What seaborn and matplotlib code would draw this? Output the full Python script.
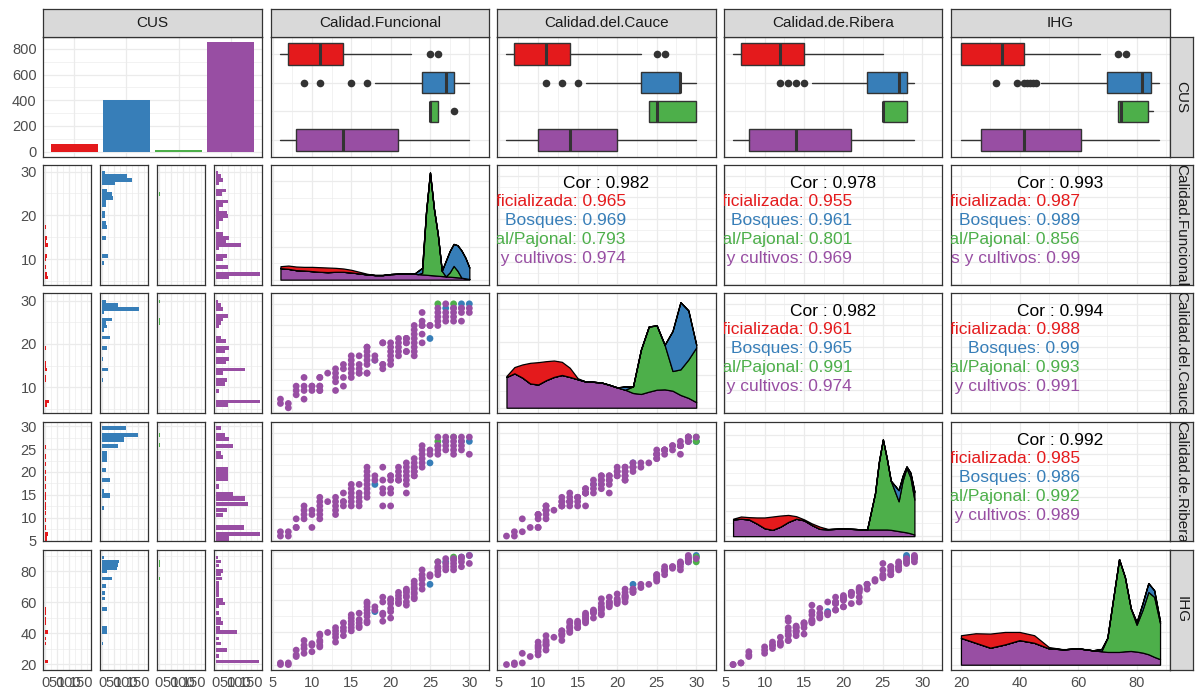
import numpy as np
import pandas as pd
import matplotlib
matplotlib.use("Agg")
import matplotlib.pyplot as plt
from matplotlib.ticker import MaxNLocator
import seaborn as sns

# ------------------------------------------------------------------ data
groups = ["Artificializada", "Bosques", "Pastizal/Pajonal", "Pasturas y cultivos"]
colors = ["#E41A1C", "#377EB8", "#4DAF4A", "#984EA3"]
var_labels = ["CUS", "Calidad.Funcional", "Calidad.del.Cauce", "Calidad.de.Ribera", "IHG"]

cus_counts = [55, 400, 12, 850]

# boxplots: [lower whisker, q1, median, q3, upper whisker] per group + outliers
box_cf = [[6, 7, 11, 14, 22.6], [18, 24, 27, 28, 30], [25, 25, 25, 26, 26], [6, 8, 14, 21, 30]]
out_cf = [[25, 26], [9, 11, 15, 17], [28], []]
box_cc = [[6, 7, 11, 14, 23], [16, 23, 28, 28, 30], [24, 24, 25, 30, 30], [6, 10, 14, 20, 30]]
out_cc = [[25, 26], [11, 13, 15], [], []]
box_cr = [[6, 7, 12, 15, 25], [16, 23, 27, 28, 29], [25, 25, 25, 28, 28], [6, 8, 14, 21, 29]]
out_cr = [[], [12, 13, 14, 15], [], []]
box_ihg = [[20, 20, 34, 41.5, 67.5], [47.5, 70, 82, 85, 87.5], [73.5, 73.5, 74.5, 84, 85.5], [20, 27, 41.5, 61, 87.5]]
out_ihg = [[73.5, 76.5], [32, 39, 41.5, 42.5, 43.5, 44.5, 45.5], [], []]

# histograms of Calidad.Funcional and Calidad.del.Cauce: counts in 31 bins
# (first bin centre 5.79, bin width 0.8276)
h_cf_r = [11, 8, 0, 4, 0, 4, 6, 0, 0, 11, 4, 6, 0, 0, 4, 0, 0, 0, 0, 0, 0, 0, 0, 1, 1, 0, 0, 0, 0, 0, 0]
h_cf_b = [0, 0, 0, 0, 7, 0, 24, 0, 0, 0, 0, 15, 0, 0, 19, 17, 0, 13, 13, 0, 17, 17, 44, 41, 19, 0, 56, 126, 104, 13, 0]
h_cf_g = [0] * 23 + [6, 2, 0, 0, 1, 0, 0, 0]
h_cf_p = [57, 185, 0, 52, 0, 31, 46, 0, 15, 107, 43, 57, 31, 0, 15, 15, 31, 52, 46, 15, 30, 50, 0, 26, 41, 0, 15, 31, 22, 9, 0]
h_cc_r = [6, 14, 0, 0, 0, 0, 0, 4, 4, 0, 9, 4, 4, 0, 0, 0, 3] + [0] * 14
h_cc_b = [0, 0, 0, 0, 0, 0, 0, 3, 0, 0, 26, 0, 0, 3, 0, 0, 22, 0, 0, 33, 0, 7, 22, 17, 41, 0, 6, 157, 65, 17, 0]
h_cc_g = [0] * 23 + [4, 4, 0, 0, 0, 0, 3, 0]
h_cc_p = [50, 185, 0, 0, 15, 0, 37, 46, 0, 31, 122, 0, 43, 57, 0, 37, 57, 0, 43, 22, 0, 0, 15, 22, 31, 50, 0, 31, 22, 7, 0]

# histograms of Calidad.de.Ribera and IHG: (bar position, count) per group
h_cr_r_v = [5.5, 6.5, 7.9, 9.5, 11.0, 12.2, 13.0, 14.3, 15.2, 16.8, 18.6, 20.0, 21.8, 23.4, 25.5]
h_cr_r_n = [6, 11, 4, 2, 4, 3, 4, 3, 3, 3, 2, 2, 2, 2, 2]
h_cr_b_v = [12.1, 14.9, 15.8, 18.2, 20.4, 22.6, 23.3, 24.1, 25.7, 27.1, 28.0, 29.6]
h_cr_b_n = [7, 33, 7, 33, 17, 19, 19, 19, 68, 91, 150, 102]
h_cr_g_v = [25.9, 28.0]
h_cr_g_n = [6, 4]
h_cr_p_v = [5.5, 6.5, 7.9, 10.6, 11.7, 13.0, 14.2, 15.2, 16.8, 18.6, 19.7, 20.6, 23.2, 24.1,
            25.7, 27.2, 28.0, 29.6]
h_cr_p_n = [57, 185, 118, 30, 48, 135, 122, 72, 11, 50, 50, 50, 31, 22, 72, 57, 37, 22]

h_ihg_r_v = [21.7, 33.5, 36.7, 41.0, 46.8, 49.0, 53.0, 55.7]
h_ihg_r_n = [13, 4, 4, 11, 4, 4, 4, 4]
h_ihg_b_v = [33.5, 41.0, 43.2, 55.7, 62.5, 65.8, 70.5, 75.4, 80.0, 81.9, 84.0, 86.4, 88.8]
h_ihg_b_n = [2, 19, 19, 19, 13, 13, 17, 41, 19, 61, 68, 72, 6]
h_ihg_g_v = [75.4, 84.0, 86.4]
h_ihg_g_n = [4, 3, 3]
h_ihg_p_v = [21.7, 25.5, 29.2, 33.5, 36.7, 41.0, 43.5, 46.8, 49.0, 53.0, 57.2, 59.3, 61.5, 64.7,
             66.8, 68.8, 70.5, 72.6, 75.4, 78.2, 80.2, 83.8, 86.4, 88.8]
h_ihg_p_n = [181, 15, 46, 22, 15, 89, 19, 30, 22, 13, 15, 37, 31, 15, 15, 13, 15, 15, 26, 22, 31, 15, 22, 7]

# stacked densities (per-group density x1000, read at the listed values)
d_cf_x = [6, 7, 8, 9, 10, 11, 12, 13, 14, 15, 16, 17, 18, 19, 20, 21, 22, 23, 23.5, 24, 24.5,
          25, 25.5, 26, 26.5, 27, 27.5, 28, 28.5, 29, 29.5, 30]
d_cf_p = [35, 33, 29, 28, 26, 24, 23, 24, 24, 22, 19, 16, 14, 14, 17, 18, 18, 18, 17, 16, 15,
          14, 13, 12, 11, 10, 9, 8, 7, 6, 4, 2]
d_cf_g = [0] * 19 + [5, 190, 313, 204, 125, 16, 0, 13, 34, 20, 0, 0, 0]
d_cf_b = [0] * 18 + [10, 15, 2, 0, 0, 0, 0, 47, 65, 67, 78, 83, 63, 35]
d_cf_r = [6, 10, 11, 11, 13, 14, 14, 12, 10, 8, 5, 2] + [0] * 20

d_cc_x = [6, 7, 8, 9, 10, 11, 12, 13, 14, 15, 16, 17, 18, 19, 20, 21, 22, 23, 24, 25, 26, 27, 28, 29, 30]
d_cc_p = [94, 105, 92, 74, 71, 84, 94, 100, 94, 87, 80, 79, 77, 70, 62, 55, 45, 42, 49, 55, 56, 52, 39, 30, 17]
d_cc_g = [0] * 16 + [20, 135, 199, 196, 136, 60, 78, 117, 167]
d_cc_b = [0] * 15 + [10, 0, 0, 0, 0, 0, 122, 205, 150, 8]
d_cc_r = [3, 19, 40, 63, 68, 58, 50, 40, 28, 3] + [0] * 15

d_cr_x = [6, 7, 8, 9, 10, 11, 12, 13, 14, 15, 16, 17, 18, 19, 20, 21, 22, 23, 24, 24.5, 25, 25.5,
          26, 27, 27.5, 28, 28.5, 29]
d_cr_p = [53, 55, 53, 40, 25, 20, 30, 45, 55, 50, 35, 23, 22, 23, 24, 23, 22, 21, 21, 21, 21, 21,
          20, 16, 14, 12, 9, 5]
d_cr_g = [0] * 18 + [114, 214, 284, 224, 155, 94, 161, 203, 176, 110]
d_cr_b = [0] * 23 + [35, 15, 5, 15, 25]
d_cr_r = [2, 7, 7, 19, 34, 42, 35, 22, 8, 3, 5, 7, 1] + [0] * 15

d_ihg_x = [20, 25, 30, 35, 40, 45, 50, 55, 60, 65, 68, 70, 72, 74, 76, 78, 80, 82, 84, 86, 88]
d_ihg_p = [82, 67, 52, 62, 75, 67, 50, 47, 50, 44, 41, 39, 39, 39, 41, 42, 40, 37, 32, 24, 17]
d_ihg_g = [0] * 10 + [1, 43, 163, 283, 226, 130, 82, 130, 190, 183, 110]
d_ihg_b = [0] * 10 + [6, 0, 0, 0, 0, 0, 8, 20, 27, 20, 5]
d_ihg_r = [8, 29, 43, 38, 25, 23, 4] + [0] * 14

# correlations: (row, col): overall, per group
cor_tot = {(1, 2): "0.982", (1, 3): "0.978", (1, 4): "0.993",
           (2, 3): "0.982", (2, 4): "0.994", (3, 4): "0.992"}
cor_grp = {(1, 2): ["0.965", "0.969", "0.793", "0.974"],
           (1, 3): ["0.955", "0.961", "0.801", "0.969"],
           (1, 4): ["0.987", "0.989", "0.856", "0.99"],
           (2, 3): ["0.961", "0.965", "0.991", "0.974"],
           (2, 4): ["0.988", "0.99", "0.993", "0.991"],
           (3, 4): ["0.985", "0.986", "0.992", "0.989"]}

# scatter observations (distinct rows)
sc_cf = [18, 25, 27, 29, 30, 26, 28,
         6, 6, 7, 7, 8, 8, 8, 9, 9, 9, 9, 10, 10, 10, 11, 11, 11, 11, 11, 11, 12,
         13, 13, 13, 13, 13, 14, 14, 14, 14, 15, 15, 15, 15, 15, 15, 16, 16, 16, 16, 16,
         17, 17, 17, 17, 17, 17, 17, 17, 18, 18, 19, 19, 19, 19, 19, 20, 20, 20, 20, 20, 20,
         21, 21, 21, 21, 21, 22, 22, 22, 22, 22, 22, 22, 23, 23, 23, 23, 23, 23, 23, 23,
         24, 24, 24, 24, 24, 24, 25, 25, 26, 26, 26, 26, 26, 27, 27, 27, 27,
         28, 28, 28, 28, 28, 29, 29, 29, 29, 30, 30]
sc_cc = [17, 22, 29, 30, 30, 30, 30,
         7, 8, 6, 7, 9, 10, 11, 8, 10, 11, 13, 10, 11, 11, 10, 10, 11, 11, 13, 13, 14,
         10, 12, 13, 14, 15, 11, 13, 15, 16, 13, 14, 15, 16, 17, 18, 14, 14, 15, 16, 18,
         14, 14, 16, 17, 18, 19, 20, 20, 17, 18, 15, 16, 16, 21, 21, 16, 17, 18, 19, 20, 21,
         18, 19, 20, 21, 22, 19, 19, 21, 21, 22, 22, 22, 18, 19, 20, 21, 22, 23, 24, 25,
         21, 23, 25, 25, 26, 28, 25, 25, 25, 26, 27, 28, 29, 26, 27, 28, 30,
         26, 27, 28, 29, 29, 26, 28, 29, 29, 28, 29]
sc_cr = [18, 23, 28, 28, 28, 28, 29,
         6, 7, 6, 7, 8, 8, 10, 10, 11, 12, 13, 8, 11, 12, 10, 11, 12, 13, 14, 15, 14,
         11, 12, 13, 14, 15, 13, 14, 14, 16, 13, 14, 15, 16, 17, 18, 13, 14, 15, 16, 18,
         15, 16, 17, 18, 19, 20, 21, 22, 19, 20, 13, 16, 17, 19, 22, 13, 16, 17, 19, 20, 20,
         19, 19, 20, 21, 22, 16, 18, 19, 20, 21, 22, 23, 20, 20, 21, 21, 22, 22, 23, 24,
         22, 23, 24, 25, 26, 27, 25, 26, 25, 26, 27, 27, 29, 26, 27, 28, 29,
         25, 26, 27, 28, 29, 26, 27, 28, 29, 25, 29]
sc_ihg = [53, 70, 84, 87, 88, 84, 87,
          20, 21, 20, 21, 25, 26, 29, 27, 30, 32, 35, 28, 32, 33, 31, 32, 34, 35, 38, 39, 40,
          34, 37, 39, 41, 43, 38, 41, 43, 46, 41, 43, 45, 47, 49, 51, 43, 44, 46, 48, 52,
          46, 47, 50, 52, 54, 56, 58, 59, 54, 56, 47, 51, 52, 59, 62, 49, 53, 55, 58, 60, 61,
          58, 59, 61, 63, 65, 57, 59, 62, 63, 65, 66, 67, 61, 62, 64, 65, 67, 68, 70, 72,
          67, 70, 73, 74, 76, 79, 75, 76, 76, 78, 80, 81, 84, 79, 81, 83, 86,
          79, 81, 83, 85, 86, 81, 84, 86, 87, 83, 88]
sc_cus = [groups[1]] * 5 + [groups[2]] * 2 + [groups[3]] * 110

# ------------------------------------------------------------------ figure
sns.set_theme(style="white")
plt.rcParams["font.family"] = ["Liberation Sans", "DejaVu Sans"]

W, H = 1195, 693
fig = plt.figure(figsize=(W / 100, H / 100), dpi=100)
fig.patch.set_facecolor("white")

COLS = [(43, 262), (271, 489), (497, 716), (724, 942), (951, 1170)]
ROWS = [(37, 157), (165, 285), (293, 413), (422, 541), (550, 670)]
SUBGAP = 8.6
SUBW = (COLS[0][1] - COLS[0][0] - 3 * SUBGAP) / 4

BORDER = "#333333"
GRID = "#EBEBEB"
TICKC = "#4D4D4D"


def axes_px(x0, x1, y0, y1):
    return fig.add_axes([x0 / W, 1 - y1 / H, (x1 - x0) / W, (y1 - y0) / H])


def fmt(v):
    return str(int(v)) if float(v).is_integer() else str(v)


def frame(ax, xlim, ylim, xmaj, xmin, ymaj, ymin, xlab=False, ylab=False):
    ax.set_facecolor("white")
    ax.set_xlim(xlim)
    ax.set_ylim(ylim)
    ax.set_xticks(xmaj)
    ax.set_xticks(xmin, minor=True)
    ax.set_yticks(ymaj)
    ax.set_yticks(ymin, minor=True)
    ax.grid(True, which="major", color=GRID, lw=0.9)
    ax.grid(True, which="minor", color=GRID, lw=0.45)
    ax.set_axisbelow(True)
    for s in ax.spines.values():
        s.set_visible(True)
        s.set_color(BORDER)
        s.set_linewidth(0.9)
    ax.tick_params(which="both", length=0, labelbottom=False, labelleft=False)
    ax.set_xlabel("")
    ax.set_ylabel("")
    if xlab:
        ax.tick_params(axis="x", which="major", length=3, width=0.8, color=BORDER,
                       labelbottom=True, labelsize=10.5, labelcolor=TICKC, pad=1.5)
        ax.set_xticklabels([fmt(v) for v in xmaj])
    if ylab:
        ax.tick_params(axis="y", which="major", length=3, width=0.8, color=BORDER,
                       labelleft=True, labelsize=10.5, labelcolor=TICKC, pad=1.5)
        ax.set_yticklabels([fmt(v) for v in ymaj])


def minor_of(maj):
    return [(a + b) / 2 for a, b in zip(maj[:-1], maj[1:])] + [maj[-1] + (maj[1] - maj[0]) / 2]


# scales of the continuous variables (limits, major breaks)
SC = {
    "CF": ((4.8, 31.2), [5, 10, 15, 20, 25, 30]),
    "CC": ((4.8, 31.2), [5, 10, 15, 20, 25, 30]),
    "CR": ((4.85, 30.15), [5, 10, 15, 20, 25, 30]),
    "IHG": ((16.6, 91.4), [20, 40, 60, 80]),
}
VARS = ["CF", "CC", "CR", "IHG"]
df = pd.DataFrame({"CF": sc_cf, "CC": sc_cc, "CR": sc_cr, "IHG": sc_ihg, "CUS": sc_cus})

# ---- row 1, col 1: bar counts
ax = axes_px(*COLS[0], *ROWS[0])
sns.barplot(x=groups, y=cus_counts, hue=groups, palette=colors, width=0.9, saturation=1,
            legend=False, ax=ax, linewidth=0)
frame(ax, (-0.6, 3.6), (-42.5, 892.5), [0, 1, 2, 3], [], [0, 200, 400, 600, 800],
      [100, 300, 500, 700], ylab=True)

# ---- row 1, cols 2-5: boxplots
boxes = [(box_cf, out_cf), (box_cc, out_cc), (box_cr, out_cr), (box_ihg, out_ihg)]
for j, (bx, ou) in enumerate(boxes):
    ax = axes_px(*COLS[j + 1], *ROWS[0])
    stats = [dict(whislo=b[0], q1=b[1], med=b[2], q3=b[3], whishi=b[4], fliers=o)
             for b, o in zip(bx, ou)]
    kw = dict(positions=[4, 3, 2, 1], widths=0.75, patch_artist=True, showcaps=False,
              boxprops=dict(edgecolor=BORDER, linewidth=1.0),
              medianprops=dict(color=BORDER, linewidth=2.2),
              whiskerprops=dict(color=BORDER, linewidth=1.0),
              flierprops=dict(marker="o", markerfacecolor=BORDER, markeredgecolor="none",
                              markersize=5.5))
    try:
        res = ax.bxp(stats, orientation="horizontal", **kw)
    except TypeError:
        res = ax.bxp(stats, vert=False, **kw)
    for patch, c in zip(res["boxes"], colors):
        patch.set_facecolor(c)
    lim, maj = SC[VARS[j]]
    frame(ax, lim, (0.4, 4.6), maj, minor_of(maj), [1, 2, 3, 4], [])

# ---- col 1, rows 2-5: histograms faceted by CUS
BIN0, BINW = 5.79, 0.8276
bin_centres = BIN0 + BINW * np.arange(len(h_cf_p))
HIST = {
    "CF": ([(bin_centres, h) for h in (h_cf_r, h_cf_b, h_cf_g, h_cf_p)], BINW),
    "CC": ([(bin_centres, h) for h in (h_cc_r, h_cc_b, h_cc_g, h_cc_p)], BINW),
    "CR": ([(h_cr_r_v, h_cr_r_n), (h_cr_b_v, h_cr_b_n), (h_cr_g_v, h_cr_g_n), (h_cr_p_v, h_cr_p_n)], 0.95),
    "IHG": ([(h_ihg_r_v, h_ihg_r_n), (h_ihg_b_v, h_ihg_b_n), (h_ihg_g_v, h_ihg_g_n), (h_ihg_p_v, h_ihg_p_n)], 2.34),
}
HROW = {
    "CF": ((4.1, 31.5), [10, 20, 30], [5, 15, 25]),
    "CC": ((4.0, 31.8), [10, 20, 30], [5, 15, 25]),
    "CR": ((4.95, 30.9), [5, 10, 15, 20, 25, 30], [7.5, 12.5, 17.5, 22.5, 27.5]),
    "IHG": ((16.3, 93.7), [20, 40, 60, 80], [30, 50, 70, 90]),
}
cmax = max(max(n) for v in HIST.values() for _, n in v[0])
for i, var in enumerate(VARS):
    y0, y1 = ROWS[i + 1]
    data, bw = HIST[var]
    ylim, ymaj, ymin = HROW[var]
    for g in range(4):
        x0 = COLS[0][0] + g * (SUBW + SUBGAP)
        ax = axes_px(x0, x0 + SUBW, y0, y1)
        vals, cnts = data[g]
        ax.barh(vals, cnts, height=bw, color=colors[g], linewidth=0)
        frame(ax, (-0.05 * cmax, 1.05 * cmax), ylim, [0, 50, 100, 150], [25, 75, 125, 175],
              ymaj, ymin, xlab=(i == 3), ylab=(g == 0))

# ---- diagonal: stacked densities
DENS = {
    "CF": (d_cf_x, [d_cf_p, d_cf_g, d_cf_b, d_cf_r]),
    "CC": (d_cc_x, [d_cc_p, d_cc_g, d_cc_b, d_cc_r]),
    "CR": (d_cr_x, [d_cr_p, d_cr_g, d_cr_b, d_cr_r]),
    "IHG": (d_ihg_x, [d_ihg_p, d_ihg_g, d_ihg_b, d_ihg_r]),
}
layer_cols = [colors[3], colors[2], colors[1], colors[0]]
for i, var in enumerate(VARS):
    ax = axes_px(*COLS[i + 1], *ROWS[i + 1])
    x, layers = DENS[var]
    x = np.asarray(x, float)
    base = np.zeros(len(x))
    for arr, c in zip(layers, layer_cols):
        top = base + np.asarray(arr, float) / 1000.0
        ax.fill_between(x, base, top, facecolor=c, edgecolor="black", linewidth=0.9)
        base = top
    m = base.max()
    ymaj = list(MaxNLocator(nbins=4).tick_values(0, m))
    ymaj = [v for v in ymaj if v <= 1.05 * m]
    lim, maj = SC[var]
    frame(ax, lim, (-0.05 * m, 1.05 * m), maj, minor_of(maj), ymaj, minor_of(ymaj),
          xlab=(i == 3))

# ---- upper triangle: correlations
for (r, c), tot in cor_tot.items():
    ax = axes_px(*COLS[c], *ROWS[r])
    xlim, xmaj = SC[VARS[c - 1]]
    ylim, ymaj = SC[VARS[r - 1]]
    frame(ax, xlim, ylim, xmaj, minor_of(xmaj), ymaj, minor_of(ymaj))
    ax.text(0.5, 1 - 0.153, f"Cor : {tot}", transform=ax.transAxes, ha="center", va="center",
            fontsize=12.5, color="black", clip_on=True)
    for g in range(4):
        ax.text(0.588, 1 - (0.306 + 0.159 * g), f"{groups[g]}: {cor_grp[(r, c)][g]}",
                transform=ax.transAxes, ha="right", va="center", fontsize=12.5,
                color=colors[g], clip_on=True)

# ---- lower triangle: scatter plots
for r in range(2, 5):
    for c in range(1, r):
        ax = axes_px(*COLS[c], *ROWS[r])
        xv, yv = VARS[c - 1], VARS[r - 1]
        sns.scatterplot(data=df, x=xv, y=yv, hue="CUS", hue_order=groups, palette=colors,
                        s=24, linewidth=0, alpha=1, legend=False, ax=ax)
        xlim, xmaj = SC[xv]
        ylim, ymaj = SC[yv]
        frame(ax, xlim, ylim, xmaj, minor_of(xmaj), ymaj, minor_of(ymaj), xlab=(r == 4))

# ---- strips
for j, lab in enumerate(var_labels):
    ax = axes_px(COLS[j][0], COLS[j][1], 9, ROWS[0][0])
    ax.set_facecolor("#D9D9D9")
    ax.set_xticks([]); ax.set_yticks([])
    for s in ax.spines.values():
        s.set_visible(True); s.set_color(BORDER); s.set_linewidth(0.9)
    ax.text(0.5, 0.5, lab, transform=ax.transAxes, ha="center", va="center",
            fontsize=11, color="#1A1A1A", clip_on=True)
for i, lab in enumerate(var_labels):
    ax = axes_px(COLS[4][1], 1193, *ROWS[i])
    ax.set_facecolor("#D9D9D9")
    ax.set_xticks([]); ax.set_yticks([])
    for s in ax.spines.values():
        s.set_visible(True); s.set_color(BORDER); s.set_linewidth(0.9)
    ax.text(0.5, 0.5, lab, transform=ax.transAxes, ha="center", va="center", rotation=-90,
            fontsize=11, color="#1A1A1A", clip_on=True)

fig.savefig("out.png", dpi=100, facecolor="white")
